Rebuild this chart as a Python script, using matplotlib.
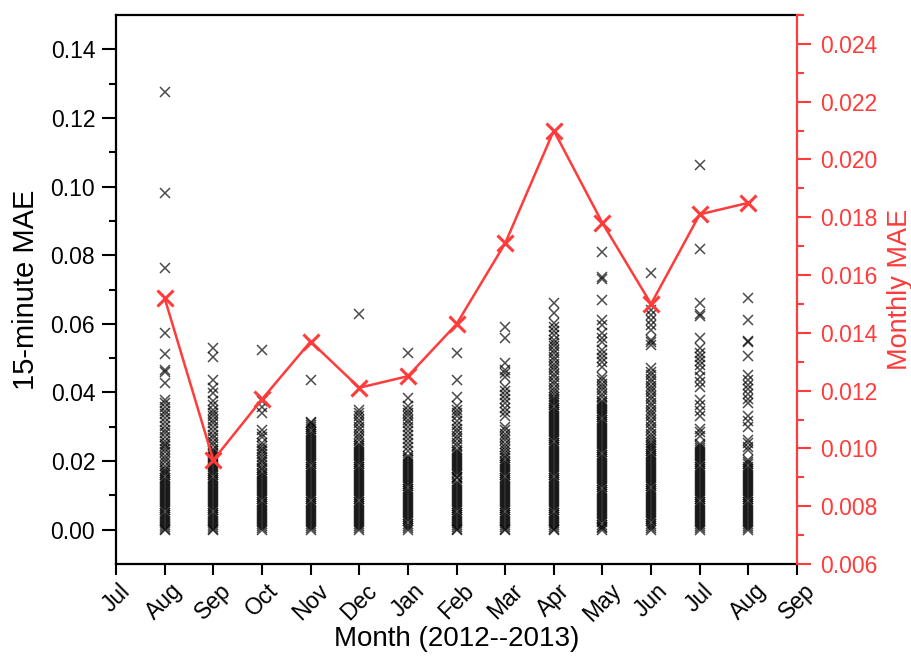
import matplotlib
matplotlib.use("Agg")
import matplotlib.pyplot as plt
from matplotlib.ticker import FormatStrFormatter, FixedLocator

plt.rcParams['font.family'] = ['Liberation Sans', 'DejaVu Sans']

# Month ticks, Jul 2012 .. Sep 2013
month_labels = ["Jul", "Aug", "Sep", "Oct", "Nov", "Dec", "Jan", "Feb",
                "Mar", "Apr", "May", "Jun", "Jul", "Aug", "Sep"]

# 15-minute MAE samples per month (units of 1e-3)
aug12 = [127.5, 98.2, 76.2, 57.3, 51.2, 46.6, 46.1, 42.8, 37.8, 36.8, 35.9, 34.7, 33.6, 32.5,
         31.3, 30.2, 29.0, 28.1, 27.0, 25.9, 25.0, 24.3, 23.5, 22.6, 21.6, 20.7, 19.6, 18.6,
         17.6, 17.0, 16.4, 15.8, 15.2, 14.6, 14.0, 13.4, 12.8, 12.2, 11.6, 11.0, 10.4, 9.8,
         9.2, 8.6, 8.0, 7.4, 6.8, 6.2, 5.6, 5.0, 4.4, 3.8, 3.2, 2.6, 2.0, 1.4, 0.8, 0.3, 0.0]
sep12 = [52.9, 50.3, 43.7, 41.2, 39.8, 37.4, 36.2, 35.0, 34.0, 33.0, 32.0, 31.0, 30.0, 28.8,
         27.6, 26.6, 25.6, 24.6, 23.6, 23.0, 22.4, 21.8, 21.2, 20.6, 20.0, 19.4, 18.8, 18.2,
         17.6, 17.0, 16.4, 15.8, 15.2, 14.6, 14.0, 13.4, 12.8, 12.2, 11.6, 11.0, 10.4, 9.8,
         9.2, 8.6, 8.0, 7.4, 6.8, 6.2, 5.6, 5.0, 4.4, 3.8, 3.2, 2.6, 2.0, 1.4, 0.8, 0.3, 0.0]
oct12 = [52.4, 37.4, 35.9, 34.0, 29.0, 28.0, 27.0, 25.2, 24.4, 23.6, 22.8, 22.0, 21.2, 20.4,
         19.6, 18.8, 18.0, 17.3, 16.6, 16.0, 15.4, 14.8, 14.2, 13.6, 13.0, 12.4, 11.8, 11.2,
         10.6, 10.0, 9.4, 8.8, 8.2, 7.6, 7.0, 6.4, 5.8, 5.2, 4.6, 4.0, 3.4, 2.8, 2.2, 1.6,
         1.0, 0.4, 0.0]
nov12 = [43.5, 31.5, 31.0, 30.4, 29.8, 29.2, 28.6, 28.0, 27.4, 26.8, 26.2, 25.6, 25.0, 24.4,
         23.8, 23.2, 22.6, 22.0, 21.4, 20.8, 20.2, 19.6, 19.0, 18.4, 17.8, 17.2, 16.6, 16.0,
         15.4, 14.8, 14.2, 13.6, 13.0, 12.4, 11.8, 11.2, 10.6, 10.0, 9.4, 8.8, 8.2, 7.6, 7.0,
         6.4, 5.8, 5.2, 4.6, 4.0, 3.4, 2.8, 2.2, 1.6, 1.0, 0.4, 0.0]
dec12 = [62.8, 35.0, 34.0, 33.0, 32.0, 31.0, 30.0, 29.0, 28.0, 27.0, 26.0, 25.0, 24.4, 23.8,
         23.2, 22.6, 22.0, 21.4, 20.8, 20.2, 19.6, 19.0, 18.4, 17.8, 17.2, 16.6, 16.0, 15.4,
         14.8, 14.2, 13.6, 13.0, 12.4, 11.8, 11.2, 10.6, 10.0, 9.4, 8.8, 8.2, 7.6, 7.0, 6.4,
         5.8, 5.2, 4.6, 4.0, 3.4, 2.8, 2.2, 1.6, 1.0, 0.4, 0.0]
jan13 = [51.4, 38.3, 36.0, 35.0, 34.0, 33.0, 32.0, 31.0, 30.0, 28.8, 27.6, 26.4, 25.2, 24.0,
         22.8, 21.6, 21.0, 20.4, 19.8, 19.2, 18.6, 18.0, 17.4, 16.8, 16.2, 15.6, 15.0, 14.4,
         13.8, 13.2, 12.6, 12.0, 11.4, 10.8, 10.2, 9.6, 9.0, 8.4, 7.8, 7.2, 6.6, 6.0, 5.4,
         4.8, 4.2, 3.6, 3.0, 2.4, 1.8, 1.2, 0.6, 0.0]
feb13 = [51.4, 43.7, 38.8, 36.0, 35.0, 34.0, 33.0, 31.8, 30.6, 29.4, 28.4, 27.4, 26.4, 25.4,
         24.4, 23.3, 22.7, 22.1, 21.5, 20.9, 20.3, 19.7, 19.1, 18.5, 17.9, 17.3, 16.7, 16.1,
         15.5, 15.0, 14.0, 13.4, 12.8, 12.2, 11.6, 11.0, 10.4, 9.8, 9.2, 8.6, 8.0, 7.4, 6.8,
         6.2, 5.6, 5.0, 4.4, 3.8, 3.2, 2.6, 2.0, 1.4, 0.8, 0.3, 0.0]
mar13 = [59.2, 56.0, 48.5, 46.6, 45.6, 44.6, 41.7, 40.5, 39.3, 38.0, 36.8, 35.5, 34.3, 33.0,
         30.0, 29.0, 28.0, 27.0, 26.0, 25.0, 24.0, 23.2, 22.4, 21.6, 20.8, 20.0, 19.4, 18.8,
         18.2, 17.6, 17.0, 16.4, 15.8, 15.2, 14.6, 14.0, 13.4, 12.8, 12.2, 11.6, 11.0, 10.4,
         9.8, 9.2, 8.6, 8.0, 7.4, 6.8, 6.2, 5.6, 5.0, 4.4, 3.8, 3.2, 2.6, 2.0, 1.4, 0.8, 0.3, 0.0]
apr13 = [66.2, 63.1, 60.2, 59.0, 57.8, 56.6, 55.4, 54.4, 53.4, 52.4, 51.4, 50.4, 49.4, 48.4,
         47.4, 46.4, 45.4, 44.4, 43.4, 42.4, 41.4, 40.4, 39.4, 38.6, 38.0, 37.4, 36.8, 36.2,
         35.6, 35.0, 34.4, 33.8, 33.2, 32.6, 32.0, 31.4, 30.8, 30.2, 29.6, 29.0, 28.4, 27.8,
         27.2, 26.6, 26.0, 25.4, 24.8, 24.2, 23.6, 23.0, 22.4, 21.8, 21.2, 20.6, 20.0, 19.4,
         18.8, 18.2, 17.6, 17.0, 16.4, 15.8, 15.2, 14.6, 14.0, 13.4, 12.8, 12.2, 11.6, 11.0,
         10.4, 9.8, 9.2, 8.6, 8.0, 7.4, 6.8, 6.2, 5.6, 5.0, 4.4, 3.8, 3.2, 2.6, 2.0, 1.4, 0.8,
         0.3, 0.0]
may13 = [80.9, 73.7, 73.2, 67.0, 61.1, 59.7, 57.3, 56.0, 54.8, 52.4, 51.2, 50.0, 48.8, 47.5,
         44.6, 43.6, 42.6, 41.6, 40.6, 39.6, 38.6, 37.6, 36.9, 36.3, 35.7, 35.1, 34.5, 33.9,
         33.3, 32.7, 32.1, 31.5, 30.9, 30.3, 29.7, 29.1, 28.5, 27.9, 27.3, 26.7, 26.1, 25.5,
         24.9, 24.3, 23.7, 23.1, 22.5, 21.9, 21.3, 20.7, 20.1, 19.5, 18.9, 18.3, 17.7, 17.1,
         16.5, 15.9, 15.3, 14.7, 14.1, 13.5, 12.9, 12.3, 11.7, 11.1, 10.5, 9.9, 9.3, 8.7, 8.1,
         7.5, 6.9, 6.3, 5.7, 5.1, 4.5, 3.9, 3.3, 2.7, 2.1, 1.5, 0.9, 0.4, 0.0]
jun13 = [74.8, 64.0, 62.6, 61.1, 59.6, 58.2, 55.3, 54.6, 53.9, 47.0, 46.0, 45.0, 44.0, 43.0,
         42.0, 41.0, 40.0, 39.0, 38.0, 37.0, 36.0, 35.0, 34.0, 33.0, 32.0, 31.0, 30.0, 29.0,
         28.0, 27.0, 26.0, 25.2, 24.6, 24.0, 23.4, 22.8, 22.2, 21.6, 21.0, 20.4, 19.8, 19.2,
         18.6, 18.0, 17.4, 16.8, 16.2, 15.6, 15.0, 14.4, 13.8, 13.2, 12.6, 12.0, 11.4, 10.8,
         10.2, 9.6, 9.0, 8.4, 7.8, 7.2, 6.6, 6.0, 5.4, 4.8, 4.2, 3.6, 3.0, 2.4, 1.8, 1.2, 0.6, 0.0]
jul13 = [106.4, 81.8, 66.0, 63.0, 62.2, 55.8, 52.9, 51.6, 50.4, 49.2, 47.9, 46.6, 44.6, 43.1,
         41.7, 37.8, 36.2, 34.6, 33.0, 29.2, 28.6, 27.2, 25.0, 24.4, 23.8, 23.2, 22.6, 22.0,
         21.4, 20.8, 20.2, 19.6, 19.0, 18.4, 17.8, 17.2, 16.6, 16.0, 15.4, 14.8, 14.2, 13.6,
         13.0, 12.4, 11.8, 11.2, 10.6, 10.0, 9.4, 8.8, 8.2, 7.6, 7.0, 6.4, 5.8, 5.2, 4.6, 4.0,
         3.4, 2.8, 2.2, 1.6, 1.0, 0.4, 0.0]
aug13 = [67.4, 61.1, 55.0, 54.6, 50.7, 45.1, 43.7, 42.3, 40.9, 39.5, 38.2, 36.9, 33.0, 31.8,
         30.0, 26.2, 25.2, 24.2, 23.2, 20.2, 19.6, 19.0, 18.4, 17.8, 17.2, 16.6, 16.0, 15.4,
         14.8, 14.2, 13.6, 13.0, 12.4, 11.8, 11.2, 10.6, 10.0, 9.4, 8.8, 8.2, 7.6, 7.0, 6.4,
         5.8, 5.2, 4.6, 4.0, 3.4, 2.8, 2.2, 1.6, 1.0, 0.4, 0.0]

samples_15min = [aug12, sep12, oct12, nov12, dec12, jan13, feb13,
                 mar13, apr13, may13, jun13, jul13, aug13]

# Monthly MAE, Aug 2012 .. Aug 2013
monthly_mae = [0.0152, 0.0096, 0.0117, 0.0137, 0.0121, 0.0125, 0.0143,
               0.0171, 0.0210, 0.0178, 0.0150, 0.0181, 0.0185]

RED = "#FF3B3B"

fig = plt.figure(figsize=(9.12, 6.64), dpi=100)
ax = fig.add_axes([0.1272, 0.1506, 0.7467, 0.8268])

for i, vals in enumerate(samples_15min):
    pos = i + 1
    ys = [v * 1e-3 for v in vals]
    ax.plot([pos] * len(ys), ys, linestyle="none", marker="x", ms=7, mew=1.1,
            color="black", alpha=0.7)

ax.set_xlim(0, len(month_labels) - 1)
ax.set_ylim(-0.01, 0.15)
ax.xaxis.set_major_locator(FixedLocator(range(len(month_labels))))
ax.set_xticklabels(month_labels, rotation=45, ha="center", va="top", fontsize=16.5)
ax.yaxis.set_major_locator(FixedLocator([0.0, 0.02, 0.04, 0.06, 0.08, 0.10, 0.12, 0.14]))
ax.yaxis.set_minor_locator(FixedLocator([0.01, 0.03, 0.05, 0.07, 0.09, 0.11, 0.13]))
ax.yaxis.set_major_formatter(FormatStrFormatter("%.2f"))
ax.tick_params(axis="y", which="major", direction="out", length=10, width=1.5,
               labelsize=16.5, pad=5, right=False)
ax.tick_params(axis="y", which="minor", direction="out", length=5, width=1.5, right=False)
ax.tick_params(axis="x", which="major", direction="out", length=8, width=1.5,
               top=False, pad=3)
for side in ["left", "bottom", "top"]:
    ax.spines[side].set_linewidth(1.6)
ax.spines["right"].set_visible(False)

ax.set_xlabel("Month (2012--2013)", fontsize=20)
ax.xaxis.set_label_coords(0.5, -0.113)
ax.set_ylabel("15-minute MAE", fontsize=21)
ax.yaxis.set_label_coords(-0.112, 0.5)

# Secondary axis for monthly values
ax2 = ax.twinx()
ax2.plot(range(1, len(monthly_mae) + 1), monthly_mae, color=RED, lw=1.8,
         marker="x", ms=12, mew=2.2)
ax2.set_ylim(0.006, 0.025)
ax2.yaxis.set_major_locator(FixedLocator([0.006, 0.008, 0.010, 0.012, 0.014, 0.016,
                                          0.018, 0.020, 0.022, 0.024]))
ax2.yaxis.set_minor_locator(FixedLocator([0.007, 0.009, 0.011, 0.013, 0.015, 0.017,
                                          0.019, 0.021, 0.023, 0.025]))
ax2.yaxis.set_major_formatter(FormatStrFormatter("%.3f"))
ax2.tick_params(axis="y", which="major", direction="out", length=10, width=1.5,
                labelsize=16.5, pad=7, colors=RED)
ax2.tick_params(axis="y", which="minor", direction="out", length=5, width=1.5, colors=RED)
ax2.tick_params(axis="x", which="major", direction="in", length=8, width=1.5,
                top=True, bottom=False, labeltop=False, labelbottom=False)
for side in ["left", "bottom", "top"]:
    ax2.spines[side].set_visible(False)
ax2.spines["right"].set_color(RED)
ax2.spines["right"].set_linewidth(1.6)
ax2.set_ylabel("Monthly MAE", fontsize=19.5, color=RED)
ax2.yaxis.set_label_coords(1.132, 0.5)

fig.savefig("out.png", dpi=100)
